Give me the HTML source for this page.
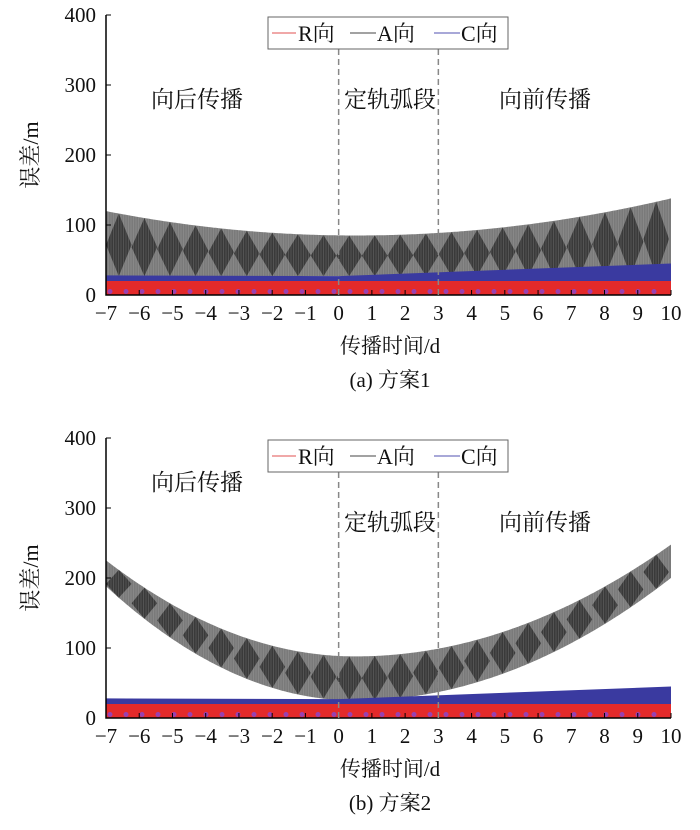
<!DOCTYPE html>
<html><head><meta charset="utf-8"><style>
body{margin:0;background:#fff;}
svg text{font-family:"Liberation Serif","Noto Serif CJK SC",serif;fill:#111;}
</style></head><body>
<svg id="s" width="700" height="825" xmlns="http://www.w3.org/2000/svg"></svg>
<script>
const s=document.getElementById('s');let h='';
const X=d=>106+(d+7)*33.235;
function plot(y0,up,lo,cap,labels){
  const Y=v=>y0-0.7*v;
  let pts=[],N=340;
  for(let i=0;i<=N;i++){const d=-7+17*i/N;pts.push(X(d).toFixed(1)+','+Y(up(d)).toFixed(1));}
  for(let i=N;i>=0;i--){const d=-7+17*i/N;pts.push(X(d).toFixed(1)+','+Y(lo(d)).toFixed(1));}
  h+=`<polygon points="${pts.join(' ')}" fill="#7a7a7a"/>`;
  const P=0.77;
  for(let k=0;k<23;k++){const c=-7+P*(k+0.5);if(c>10.3)break;
    const u=up(c),l=lo(c),m=(u+l)/2;
    h+=`<polygon points="${X(c-P/2)},${Y(m)} ${X(c)},${Y(u)} ${X(c+P/2)},${Y(m)} ${X(c)},${Y(l)}" fill="#3a3a3a"/>`;}
  for(let x=106;x<671;x+=2.5)h+=`<line x1="${x}" y1="${Y(up((x-106)/33.235-7))}" x2="${x}" y2="${Y(lo((x-106)/33.235-7))}" stroke="#ccc" stroke-width="0.5" opacity="0.35"/>`;
  h+=`<rect x="100" y="${y0-290}" width="6" height="300" fill="#fff"/><rect x="671" y="${y0-290}" width="20" height="300" fill="#fff"/>`;
  h+=`<polygon points="${X(-7)},${Y(28)} ${X(0)},${Y(27)} ${X(10)},${Y(45)} ${X(10)},${Y(18)} ${X(-7)},${Y(18)}" fill="#3a3aa0"/>`;
  h+=`<rect x="106" y="${Y(20)}" width="565" height="${0.7*20}" fill="#e42a2a"/>`;
  for(let x=110;x<670;x+=16)h+=`<circle cx="${x}" cy="${Y(5)}" r="2.5" fill="#9a40b0"/>`;
  h+=`<path d="M106,${y0-280}V${y0}H671" stroke="#000" stroke-width="1.5" fill="none"/>`;
  for(let v=0;v<=400;v+=100){h+=`<line x1="106" x2="111" y1="${Y(v)}" y2="${Y(v)}" stroke="#000"/><text x="96" y="${Y(v)+7}" font-size="21" text-anchor="end">${v}</text>`;}
  for(let d=-7;d<=10;d++){h+=`<line x1="${X(d)}" x2="${X(d)}" y1="${y0}" y2="${y0-5}" stroke="#000"/><text x="${X(d)}" y="${y0+25}" font-size="21" text-anchor="middle">${d<0?'−'+(-d):d}</text>`;}
  [0,3].forEach(d=>h+=`<line x1="${X(d)}" x2="${X(d)}" y1="${y0-246}" y2="${y0}" stroke="#888" stroke-width="1.5" stroke-dasharray="6,4"/>`);
  h+=`<rect x="268" y="${y0-278}" width="240" height="32" fill="#fff" stroke="#666"/>`;
  const ly=y0-262;
  h+=`<line x1="272" x2="296" y1="${ly}" y2="${ly}" stroke="#e05050"/><text x="298" y="${ly+8}" font-size="22">R向</text>`;
  h+=`<line x1="350" x2="376" y1="${ly}" y2="${ly}" stroke="#444"/><text x="377" y="${ly+8}" font-size="22">A向</text>`;
  h+=`<line x1="434" x2="460" y1="${ly}" y2="${ly}" stroke="#5050b0"/><text x="461" y="${ly+8}" font-size="22">C向</text>`;
  labels.forEach(l=>h+=`<text x="${l[0]}" y="${l[1]}" font-size="23" text-anchor="middle">${l[2]}</text>`);
  h+=`<text transform="translate(38,${y0-140}) rotate(-90)" font-size="22" text-anchor="middle">误差/m</text>`;
  h+=`<text x="390" y="${y0+58}" font-size="21" text-anchor="middle">传播时间/d</text>`;
  h+=`<text x="390" y="${y0+92}" font-size="21" text-anchor="middle">${cap}</text>`;
}
plot(295,d=>d<0.5?85+0.62*(d-0.5)**2:85+0.587*(d-0.5)**2,d=>27,'(a) 方案1',
 [[197,107,'向后传播'],[390,107,'定轨弧段'],[545,107,'向前传播']]);
plot(718,d=>d<0.5?88+2.44*(d-0.5)**2:88+1.77*(d-0.5)**2,d=>d<0.5?25+2.9*(d-0.5)**2:25+1.94*(d-0.5)**2,'(b) 方案2',
 [[197,490,'向后传播'],[390,530,'定轨弧段'],[545,530,'向前传播']]);
s.innerHTML=h;
</script>
</body></html>
